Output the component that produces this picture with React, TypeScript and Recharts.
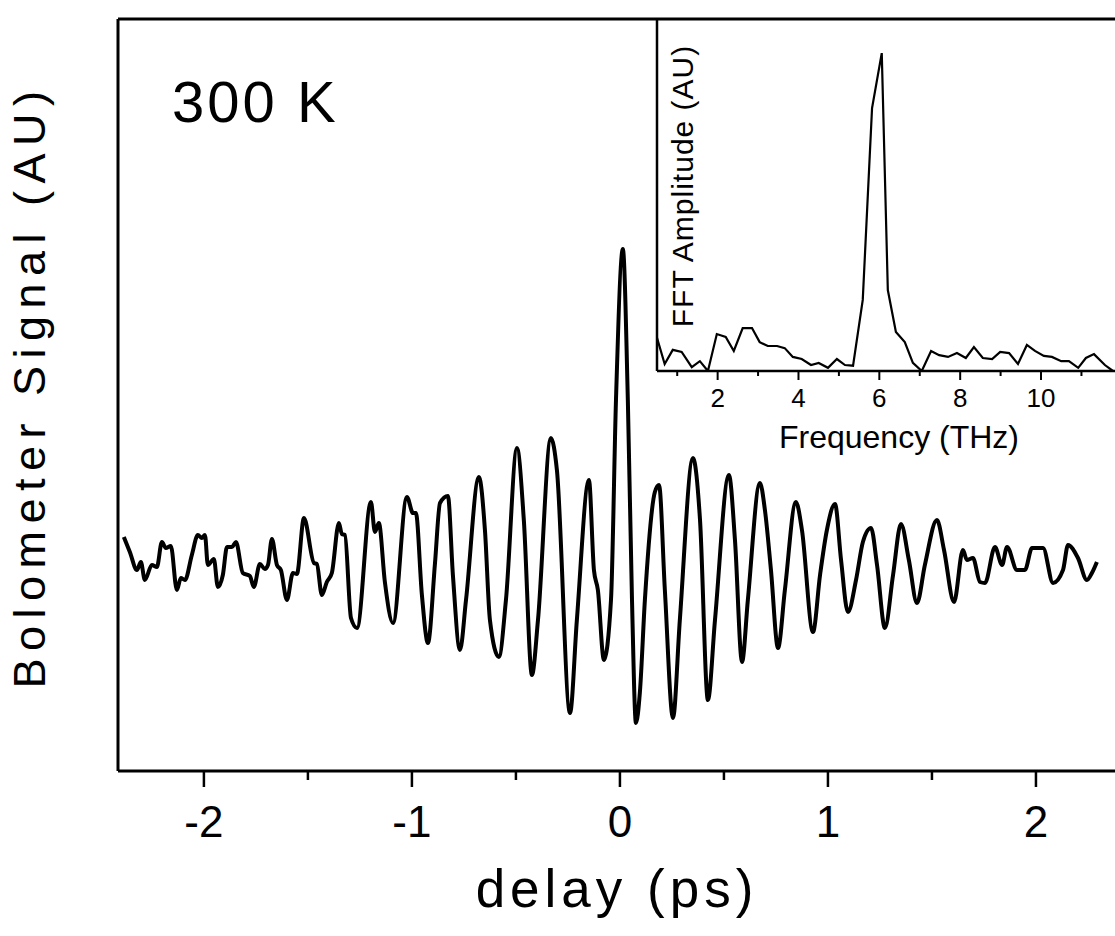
import { LineChart, Line, XAxis, YAxis, ReferenceLine } from "recharts";

// main trace: delay (ps) vs bolometer signal (AU)
const delayPs = [
  -2.385, -2.356, -2.322, -2.303, -2.284, -2.25, -2.226, -2.202, -2.183, -2.159,
  -2.13, -2.111, -2.091, -2.058, -2.029, -2.01, -1.995, -1.981, -1.952, -1.933,
  -1.909, -1.889, -1.865, -1.846, -1.813, -1.779, -1.76, -1.731, -1.707, -1.692,
  -1.673, -1.649, -1.63, -1.601, -1.572, -1.553, -1.519, -1.471, -1.457, -1.433,
  -1.409, -1.385, -1.351, -1.337, -1.322, -1.293, -1.264, -1.197, -1.178, -1.159,
  -1.13, -1.091, -1.024, -0.995, -0.981, -0.952, -0.923, -0.889, -0.865, -0.827,
  -0.803, -0.769, -0.74, -0.678, -0.649, -0.625, -0.582, -0.548, -0.495, -0.462,
  -0.423, -0.394, -0.332, -0.303, -0.24, -0.207, -0.149, -0.125, -0.106, -0.077,
  -0.043, -0.019, 0.014, 0.038, 0.058, 0.077, 0.096, 0.12, 0.168, 0.188,
  0.216, 0.255, 0.288, 0.351, 0.385, 0.423, 0.457, 0.524, 0.553, 0.587,
  0.615, 0.673, 0.697, 0.726, 0.76, 0.793, 0.846, 0.875, 0.928, 0.962,
  0.995, 1.034, 1.063, 1.096, 1.135, 1.168, 1.207, 1.236, 1.274, 1.313,
  1.351, 1.389, 1.428, 1.466, 1.524, 1.558, 1.606, 1.649, 1.668, 1.697,
  1.731, 1.755, 1.803, 1.837, 1.861, 1.909, 1.947, 1.981, 2.034, 2.082,
  2.13, 2.154, 2.202, 2.245, 2.269, 2.293,
];
const signalAU = [
  0.33, 0.18, 0, 0.08, -0.1, 0.05, 0.03, 0.28, 0.22, 0.24,
  -0.2, -0.08, -0.1, 0.15, 0.35, 0.32, 0.35, 0.05, 0.11, -0.17,
  -0.05, 0.23, 0.23, 0.28, -0.03, -0.06, -0.17, 0.06, 0.01, 0.05,
  0.31, 0.05, 0, -0.3, -0.03, -0.04, 0.52, 0.07, 0.06, -0.25,
  -0.12, -0.03, 0.47, 0.36, 0.35, -0.48, -0.58, 0.68, 0.38, 0.47,
  -0.12, -0.53, 0.73, 0.57, 0.57, -0.25, -0.73, 0.07, 0.67, 0.74,
  -0.05, -0.8, -0.3, 0.93, 0.4, -0.5, -0.87, -0.3, 1.22, 0.5,
  -1.05, -0.5, 1.32, 1.0, -1.43, -0.5, 0.9, 0, -0.2, -0.9,
  -0.3, 1.7, 3.21, 1.7, -0.3, -1.53, -1.22, -0.3, 0.78, 0.85,
  -0.2, -1.48, -0.5, 1.12, 0.5, -1.3, -0.5, 0.95, 0.3, -0.92,
  -0.3, 0.87, 0.6, 0, -0.78, -0.2, 0.68, 0.4, -0.62, -0.05,
  0.4, 0.66, 0.1, -0.42, -0.1, 0.28, 0.42, 0.05, -0.58, -0.05,
  0.46, 0.1, -0.33, 0.05, 0.5, 0.2, -0.32, 0.2, 0.1, 0.12,
  -0.12, -0.13, 0.23, 0.05, 0.23, 0, 0, 0.22, 0.22, -0.13,
  0, 0.25, 0.12, -0.1, -0.03, 0.08,
];
const delayTicks = [-2, -1.5, -1, -0.5, 0, 0.5, 1, 1.5, 2];

// inset: FFT amplitude vs frequency
const freqTHz = [
  0.5, 0.69, 0.89, 1.11, 1.36, 1.56, 1.76, 1.98, 2.2, 2.4,
  2.62, 2.85, 3.04, 3.24, 3.47, 3.66, 3.86, 4.08, 4.31, 4.5,
  4.73, 4.95, 5.15, 5.35, 5.59, 5.82, 6.06, 6.21, 6.41, 6.63,
  6.83, 7.05, 7.28, 7.48, 7.7, 7.92, 8.14, 8.34, 8.56, 8.79,
  8.99, 9.21, 9.43, 9.65, 9.85, 10.07, 10.27, 10.5, 10.69, 10.92,
  11.11, 11.31, 11.58, 11.78,
];
const fftAU = [
  9.4, 2.0, 6.0, 5.4, 1.1, 2.8, 0, 10.5, 9.7, 5.7,
  12.2, 12.2, 8.2, 7.1, 7.1, 6.5, 4.0, 3.4, 1.7, 2.3,
  0.9, 3.4, 1.7, 1.5, 20.2, 74.7, 90.3, 23.0, 11.1, 8.2,
  2.3, 0, 5.7, 4.5, 4.0, 5.1, 3.7, 6.8, 3.7, 3.4,
  5.4, 5.1, 2.0, 7.4, 5.7, 4.3, 4.0, 2.8, 2.8, 0.9,
  3.7, 4.8, 1.7, 0,
];
const freqTicks = [1, 2, 3, 4, 5, 6, 7, 8, 9, 10, 11];

const FONT = '"Liberation Sans", Arial, Helvetica, sans-serif';

const mainData = delayPs.map((t, i) => ({ t, s: signalAU[i] }));
const fftData = freqTHz.map((f, i) => ({ f, a: fftAU[i] }));

const MainTick = (props: any) => {
  const { x, y, payload } = props;
  const v = payload.value;
  const major = Number.isInteger(v);
  return (
    <g>
      <line x1={x} x2={x} y1={y} y2={y + (major ? 16 : 9)} stroke="#000" strokeWidth={2.5} />
      {major && (
        <text x={x} y={y + 66} textAnchor="middle" fontSize={44} fontFamily={FONT} fill="#000">
          {String(v)}
        </text>
      )}
    </g>
  );
};

const InsetTick = (props: any) => {
  const { x, y, payload } = props;
  const v = payload.value;
  const major = v % 2 === 0;
  return (
    <g>
      <line x1={x} x2={x} y1={y} y2={y + (major ? 9 : 5)} stroke="#000" strokeWidth={2} />
      {major && (
        <text x={x} y={y + 36} textAnchor="middle" fontSize={26} fontFamily={FONT} fill="#000">
          {String(v)}
        </text>
      )}
    </g>
  );
};

export default function App() {
  return (
    <div style={{ position: "absolute", left: 0, top: 0, width: 1115, height: 936, background: "#fff" }}>
      <LineChart
        width={1115}
        height={936}
        data={mainData}
        margin={{ top: 19, right: 0, bottom: 125, left: 118 }}
      >
        <XAxis
          type="number"
          dataKey="t"
          domain={[-2.413, 2.38]}
          allowDataOverflow
          ticks={delayTicks}
          interval={0}
          tick={<MainTick />}
          tickLine={false}
          tickSize={0}
          tickMargin={0}
          height={40}
          axisLine={{ stroke: "#000", strokeWidth: 3 }}
        />
        <YAxis
          type="number"
          domain={[-2.01, 5.51]}
          allowDataOverflow
          tick={false}
          tickLine={false}
          axisLine={false}
          width={0}
        />
        <ReferenceLine y={5.51} stroke="#000" strokeWidth={3} ifOverflow="visible" />
        <ReferenceLine x={-2.413} stroke="#000" strokeWidth={3} ifOverflow="visible" />
        <Line
          type="monotone"
          dataKey="s"
          stroke="#000"
          strokeWidth={4}
          dot={false}
          isAnimationActive={false}
        />
      </LineChart>

      <div style={{ position: "absolute", left: 600, top: 0 }}>
        <LineChart
          width={515}
          height={470}
          data={fftData}
          margin={{ top: 19, right: 0, bottom: 59, left: 57 }}
        >
          <XAxis
            type="number"
            dataKey="f"
            domain={[0.5, 11.83]}
            allowDataOverflow
            ticks={freqTicks}
            interval={0}
            tick={<InsetTick />}
            tickLine={false}
            tickSize={0}
            tickMargin={0}
            height={40}
            axisLine={{ stroke: "#000", strokeWidth: 2.5 }}
          />
          <YAxis
            type="number"
            domain={[0, 100]}
            allowDataOverflow
            tick={false}
            tickLine={false}
            axisLine={false}
            width={0}
          />
          <ReferenceLine x={0.5} stroke="#000" strokeWidth={2.5} ifOverflow="visible" />
          <Line
            type="linear"
            dataKey="a"
            stroke="#000"
            strokeWidth={2.2}
            dot={false}
            isAnimationActive={false}
          />
        </LineChart>
      </div>

      <svg
        width={1115}
        height={936}
        style={{ position: "absolute", left: 0, top: 0, pointerEvents: "none" }}
      >
        <text x={172} y={122} fontSize={58} letterSpacing={3} fontFamily={FONT} fill="#000">
          300 K
        </text>
        <text
          x={45}
          y={386}
          transform="rotate(-90 45 386)"
          textAnchor="middle"
          fontSize={45}
          letterSpacing={7.5}
          fontFamily={FONT}
          fill="#000"
        >
          Bolometer Signal (AU)
        </text>
        <text x={617} y={907} textAnchor="middle" fontSize={53} letterSpacing={5} fontFamily={FONT} fill="#000">
          delay (ps)
        </text>
        <text
          x={693}
          y={186}
          transform="rotate(-90 693 186)"
          textAnchor="middle"
          fontSize={30}
          letterSpacing={1}
          fontFamily={FONT}
          fill="#000"
        >
          FFT Amplitude (AU)
        </text>
        <text x={899} y={448} textAnchor="middle" fontSize={32} fontFamily={FONT} fill="#000">
          Frequency (THz)
        </text>
      </svg>
    </div>
  );
}
